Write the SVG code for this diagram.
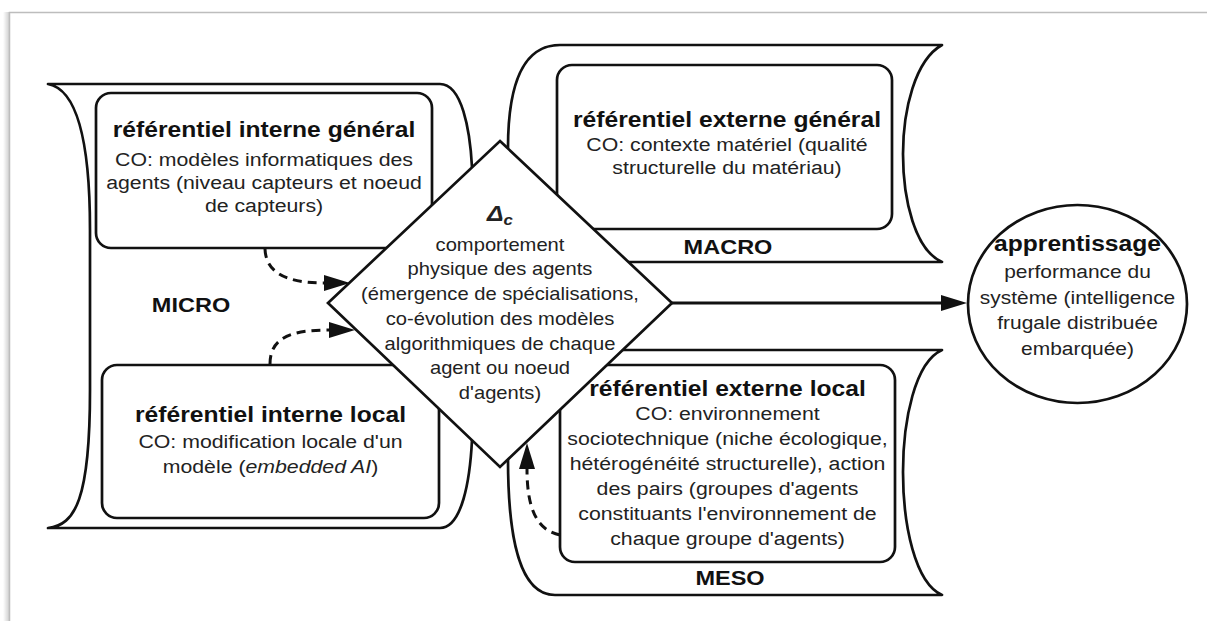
<svg xmlns="http://www.w3.org/2000/svg" width="1207" height="621" viewBox="0 0 1207 621">
<defs>
<style>
.ln{fill:none;stroke:#111;stroke-width:2.7;stroke-linejoin:round}
.box{fill:#fff;stroke:#111;stroke-width:2.7}
.t{font-family:"Liberation Sans",Arial,sans-serif;fill:#222;text-anchor:middle}
.b{font-weight:bold;font-size:22px;fill:#111}
.r{font-size:19px}
.d{font-size:18px}
.c{font-size:18.7px}
.lbl{font-weight:bold;font-size:21px;fill:#111}
.dash{fill:none;stroke:#111;stroke-width:3;stroke-dasharray:9 6}
.arr{fill:none;stroke:#111;stroke-width:3}
</style>
<marker id="ah" markerUnits="userSpaceOnUse" markerWidth="28" markerHeight="18" refX="0" refY="8" orient="auto">
<path d="M0,0 L26,8 L0,16 z" fill="#111"/>
</marker>
<linearGradient id="sh" x1="0" y1="0" x2="1" y2="0">
<stop offset="0" stop-color="#000" stop-opacity="0"/>
<stop offset="1" stop-color="#000" stop-opacity="0.18"/>
</linearGradient>
</defs>
<rect width="1207" height="621" fill="#fff"/>
<g id="frame">
<rect x="3" y="12" width="6" height="609" fill="url(#sh)"/>
<path d="M9.5,621 L9.5,12.5 L1207,12.5" fill="none" stroke="#bdbdbd" stroke-width="1.5"/>
</g>
<g id="micro">
<path class="ln" d="M472,167 C470,130 462,84 440,84 L48,84 C70,88 90,120 90,230 L90,390 C90,500 75,525 48,528 L440,528 C462,528 470,480 472,440"/>
<text class="t lbl" transform="translate(191 0) scale(1.12 1)" x="0" y="312">MICRO</text>
</g>
<g id="macro">
<path class="ln" d="M508,148 C508,90 520,45 560,45 L942,45 C915,60 903,110 903,154 C903,200 915,250 942,262 L628,262"/>
<text class="t lbl" transform="translate(728 0) scale(1.12 1)" x="0" y="254">MACRO</text>
</g>
<g id="meso">
<path class="ln" d="M623,350 L942,350 C915,362 903,420 903,472 C903,525 915,583 942,595 L555,595 C520,595 508,540 508,459"/>
<text class="t lbl" transform="translate(730 0) scale(1.12 1)" x="0" y="585">MESO</text>
</g>
<g id="ref-interne-general">
<rect class="box" x="96" y="93" width="336" height="155" rx="15"/>
<g transform="translate(264 0) scale(1.12 1)">
<text class="t b" x="0" y="137">référentiel interne général</text>
<text class="t r" x="0" y="166">CO: modèles informatiques des</text>
<text class="t r" x="0" y="189">agents (niveau capteurs et noeud</text>
<text class="t r" x="0" y="212">de capteurs)</text>
</g>
</g>
<g id="ref-interne-local">
<rect class="box" x="102" y="365" width="337" height="153" rx="15"/>
<g transform="translate(270.5 0) scale(1.12 1)">
<text class="t b" x="0" y="422">référentiel interne local</text>
<text class="t r" x="0" y="448">CO: modification locale d'un</text>
<text class="t r" x="0" y="473">modèle (<tspan font-style="italic">embedded AI</tspan>)</text>
</g>
</g>
<g id="ref-externe-general">
<rect class="box" x="557" y="65" width="335" height="164" rx="15"/>
<g transform="translate(727 0) scale(1.12 1)">
<text class="t b" x="0" y="127">référentiel externe général</text>
<text class="t r" x="0" y="151">CO: contexte matériel (qualité</text>
<text class="t r" x="0" y="174">structurelle du matériau)</text>
</g>
</g>
<g id="ref-externe-local">
<rect class="box" x="560" y="365" width="335" height="197" rx="15"/>
<g transform="translate(727.5 0) scale(1.12 1)">
<text class="t b" x="0" y="396">référentiel externe local</text>
<text class="t r" x="0" y="420">CO: environnement</text>
<text class="t r" x="0" y="445">sociotechnique (niche écologique,</text>
<text class="t r" x="0" y="470">hétérogénéité structurelle), action</text>
<text class="t r" x="0" y="495">des pairs (groupes d'agents</text>
<text class="t r" x="0" y="520">constituants l'environnement de</text>
<text class="t r" x="0" y="545">chaque groupe d'agents)</text>
</g>
</g>
<g id="delta-c">
<path class="box" d="M500,141 L672,303 L500,467 L328,303 Z"/>
<g transform="translate(500 0) scale(1.12 1)">
<text class="t" x="0" y="221" font-weight="bold" font-style="italic" font-size="22" fill="#111">Δ<tspan font-size="15" dy="4">c</tspan></text>
<text class="t d" x="0" y="251">comportement</text>
<text class="t d" x="0" y="275">physique des agents</text>
<text class="t d" x="0" y="300">(émergence de spécialisations,</text>
<text class="t d" x="0" y="325">co-évolution des modèles</text>
<text class="t d" x="0" y="350">algorithmiques de chaque</text>
<text class="t d" x="0" y="374">agent ou noeud</text>
<text class="t d" x="0" y="399">d'agents)</text>
</g>
</g>
<g id="apprentissage">
<ellipse class="box" cx="1077.5" cy="304" rx="109.5" ry="99"/>
<g transform="translate(1077.5 0) scale(1.12 1)">
<text class="t b" x="0" y="251">apprentissage</text>
<text class="t c" x="0" y="278">performance du</text>
<text class="t c" x="0" y="304">système (intelligence</text>
<text class="t c" x="0" y="329">frugale distribuée</text>
<text class="t c" x="0" y="355">embarquée)</text>
</g>
</g>
<g id="connectors">
<path class="arr" d="M672,303 L941,303" marker-end="url(#ah)"/>
<path class="dash" d="M265,249 C266,272 285,283 324,283" marker-end="url(#ah)"/>
<path class="dash" d="M270,364 C270,338 290,330 329,330" marker-end="url(#ah)"/>
<path class="dash" d="M560,535 C535,530 527,505 527,469" marker-end="url(#ah)"/>
</g>
</svg>
